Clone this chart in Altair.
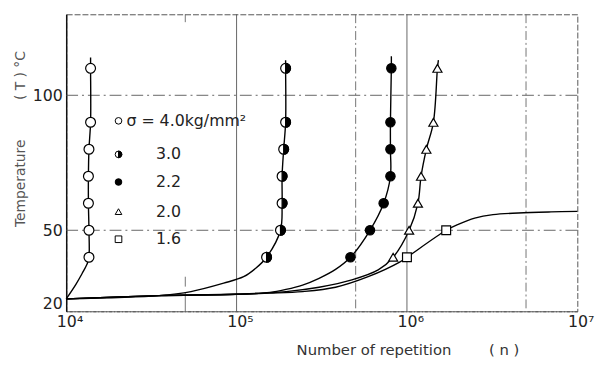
import altair as alt
import pandas as pd

# ---------------- data ----------------
series_names = ["4.0", "3.0", "2.2", "2.0", "1.6"]

# measured points (markers)
m_40_n = [1.36e4, 1.36e4, 1.35e4, 1.35e4, 1.36e4, 1.39e4, 1.39e4]
m_40_T = [40, 50, 60, 70, 80, 90, 110]
m_30_n = [1.50e5, 1.81e5, 1.85e5, 1.85e5, 1.89e5, 1.94e5, 1.94e5]
m_30_T = [40, 50, 60, 70, 80, 90, 110]
m_22_n = [4.66e5, 6.07e5, 7.3e5, 8.0e5, 8.0e5, 8.0e5, 8.1e5]
m_22_T = [40, 50, 60, 70, 80, 90, 110]
m_20_n = [8.3e5, 1.03e6, 1.16e6, 1.21e6, 1.30e6, 1.43e6, 1.51e6]
m_20_T = [40, 50, 60, 70, 80, 90, 110]
m_16_n = [1.0e6, 1.7e6]
m_16_T = [40, 50]

# fitted curves
c_40_n = [1.0e4, 1.14e4, 1.24e4, 1.33e4, 1.36e4, 1.36e4, 1.35e4, 1.35e4, 1.36e4, 1.39e4, 1.39e4, 1.39e4]
c_40_T = [24.6, 30, 34, 37.7, 40, 50, 60, 70, 80, 90, 110, 114]
c_30_n = [1.0e4, 3.5e4, 5.4e4, 8.4e4, 1.1e5, 1.3e5, 1.50e5, 1.81e5, 1.85e5, 1.85e5, 1.89e5, 1.94e5, 1.94e5, 1.94e5]
c_30_T = [24.6, 25.8, 27.3, 30.4, 32.8, 36, 40, 50, 60, 70, 80, 90, 110, 113]
c_22_n = [1.0e4, 3.5e4, 1.0e5, 1.57e5, 1.95e5, 2.44e5, 3.05e5, 3.81e5, 4.66e5, 6.07e5, 7.3e5, 8.0e5, 8.0e5, 8.0e5, 8.1e5, 8.1e5]
c_22_T = [24.6, 25.8, 26.3, 27, 28.1, 29.7, 32.2, 35.5, 40, 50, 60, 70, 80, 90, 110, 114.5]
c_20_n = [1.0e4, 3.5e4, 1.0e5, 1.95e5, 3.05e5, 4.75e5, 6.78e5, 8.3e5, 1.03e6, 1.16e6, 1.21e6, 1.30e6, 1.43e6, 1.51e6, 1.53e6]
c_20_T = [24.6, 25.8, 26.3, 27.3, 28.9, 31.6, 35.3, 40, 50, 60, 70, 80, 90, 110, 113]
c_16_n = [1.0e4, 3.5e4, 1.0e5, 1.56e5, 2.44e5, 3.81e5, 5.92e5, 9.06e5, 1.0e6, 1.7e6, 2.0e6, 2.5e6, 3.2e6, 4.5e6, 7.0e6, 1.0e7]
c_16_T = [24.6, 25.8, 26.3, 26.7, 27.3, 28.9, 32.8, 38.2, 40, 50, 52.2, 54.5, 55.8, 56.4, 56.8, 57]

x_tick_values = [1e4, 1e5, 1e6, 1e7]
x_tick_labels = ["10⁴", "10⁵", "10⁶", "10⁷"]
y_tick_values = [20, 50, 100]
v_grid_solid = [1e5, 1e6]
v_grid_dashed = [5e5, 5e6]
v_grid_short = [5e4]
h_grid = [50, 100]

legend_labels = ["σ = 4.0kg/mm²", "3.0", "2.2", "2.0", "1.6"]

# ---------------- tables ----------------
mk = []
for s, ns, ts in zip(series_names, [m_40_n, m_30_n, m_22_n, m_20_n, m_16_n],
                     [m_40_T, m_30_T, m_22_T, m_20_T, m_16_T]):
    for n, t in zip(ns, ts):
        mk.append({"s": s, "n": n, "T": t})
markers = pd.DataFrame(mk)

cv = []
for s, ns, ts in zip(series_names, [c_40_n, c_30_n, c_22_n, c_20_n, c_16_n],
                     [c_40_T, c_30_T, c_22_T, c_20_T, c_16_T]):
    for i, (n, t) in enumerate(zip(ns, ts)):
        cv.append({"s": s, "n": n, "T": t, "i": i})
curves = pd.DataFrame(cv)

FONT = "DejaVu Sans"
xscale = alt.Scale(type="log", domain=[1e4, 1e7], nice=False)
yscale = alt.Scale(domain=[20, 130], nice=False, zero=False)

label_expr = " : ".join(
    f"datum.value == {int(v)} ? '{l}'" for v, l in zip(x_tick_values[:-1], x_tick_labels[:-1])
) + f" : '{x_tick_labels[-1]}'"

NB = "\u00a0"
x_title = "Number of repetition" + NB * 8 + "(" + NB + "n" + NB + ")"
y_title = "Temperature" + NB * 9 + "(" + NB + "T" + NB + ")" + NB + "°C"

xaxis = alt.Axis(values=x_tick_values, labelExpr=label_expr, grid=False, ticks=False,
                 labelFlush=False, labelAlign="left", labelOffset=-10, labelPadding=2,
                 labelFont=FONT, labelFontSize=16, labelColor="#222",
                 domainColor="#555", domainDash=[6, 2], domainWidth=1,
                 title=x_title, titleFont=FONT, titleFontSize=15, titleFontWeight="normal",
                 titleColor="#333", titleAnchor="start", titleX=233, titleY=44,
                 titleBaseline="alphabetic", titleAlign="left")
yaxis = alt.Axis(values=y_tick_values, grid=False, ticks=False, labelPadding=4,
                 labelFlush=True, labelFlushOffset=0,
                 labelFont=FONT, labelFontSize=16, labelColor="#222",
                 domainColor="#111", domainWidth=1.5,
                 title=y_title, titleFont=FONT, titleFontSize=14, titleFontWeight="normal",
                 titleColor="#555", titleX=-46, titleY=126, titleAlign="center",
                 titleBaseline="middle", titleAngle=270, titleAnchor="start")

base_x = alt.X("n:Q", scale=xscale, axis=xaxis)
base_y = alt.Y("T:Q", scale=yscale, axis=yaxis)

# grid
g_solid = alt.Chart(pd.DataFrame({"n": v_grid_solid})).mark_rule(
    color="#555", strokeWidth=0.9).encode(x=alt.X("n:Q", scale=xscale))
g_dash = alt.Chart(pd.DataFrame({"n": v_grid_dashed})).mark_rule(
    color="#666", strokeWidth=0.9, strokeDash=[9, 3, 2, 3]).encode(x=alt.X("n:Q", scale=xscale))
g_short = alt.Chart(pd.DataFrame({"n": v_grid_short})).mark_rule(
    color="#666", strokeWidth=0.9, strokeDash=[8, 258, 10, 6, 20]).encode(x=alt.X("n:Q", scale=xscale))
g_h = alt.Chart(pd.DataFrame({"T": h_grid})).mark_rule(
    color="#555", strokeWidth=0.9, strokeDash=[12, 4, 2, 4]).encode(y=alt.Y("T:Q", scale=yscale))

lines = alt.Chart(curves).mark_line(color="black", strokeWidth=1.4, interpolate="catmull-rom").encode(
    x=base_x, y=base_y, detail="s:N", order=alt.Order("i:Q"))

def pts(sel, shape, fill, size):
    return alt.Chart(markers).transform_filter(alt.FieldOneOfPredicate(field="s", oneOf=sel)).mark_point(
        shape=shape, filled=True, fill=fill, stroke="black", strokeWidth=1.2, size=size, opacity=1
    ).encode(x=alt.X("n:Q", scale=xscale), y=alt.Y("T:Q", scale=yscale))

HALF = "M0,-1A1,1,0,0,1,0,1Z"
p_open = pts(["4.0", "3.0"], "circle", "white", 100)
p_half = pts(["3.0"], HALF, "black", 100)
p_full = pts(["2.2"], "circle", "black", 90)
p_tri = pts(["2.0"], "triangle-up", "white", 85)
p_sq = pts(["1.6"], "square", "white", 80)

# legend (drawn by hand inside the plot)
row_y = [108, 142, 170, 200, 228]
sym_x = 53
leg = []
leg_shapes = [("circle", "white"), ("circle", "white"), ("circle", "black"), ("triangle-up", "white"), ("square", "white")]
for k, (shape, fill) in enumerate(leg_shapes):
    leg.append(alt.Chart(pd.DataFrame({"a": [0]})).mark_point(
        shape=shape, filled=True, fill=fill, stroke="black", strokeWidth=1, size=45, opacity=1
    ).encode(x=alt.value(sym_x), y=alt.value(row_y[k])))
    if k == 1:
        leg.append(alt.Chart(pd.DataFrame({"a": [0]})).mark_point(
            shape=HALF, filled=True, fill="black", stroke="black", strokeWidth=1, size=45, opacity=1
        ).encode(x=alt.value(sym_x), y=alt.value(row_y[k])))
    leg.append(alt.Chart(pd.DataFrame({"t": [legend_labels[k]]})).mark_text(
        font=FONT, fontSize=16, align="left", baseline="middle", color="#222"
    ).encode(x=alt.value(61 if k == 0 else 91), y=alt.value(row_y[k]), text="t:N"))

chart = alt.layer(g_solid, g_dash, g_short, g_h, lines, p_open, p_half, p_full, p_tri, p_sq, *leg).properties(
    width=518, height=301,
    autosize=alt.AutoSizeParams(type="none"),
    padding={"left": 59, "top": 4, "right": 23, "bottom": 46},
).configure_view(stroke="#555", strokeDash=[6, 2], strokeWidth=1)

chart.save("out.html", embed_options={"renderer": "svg", "actions": False})
